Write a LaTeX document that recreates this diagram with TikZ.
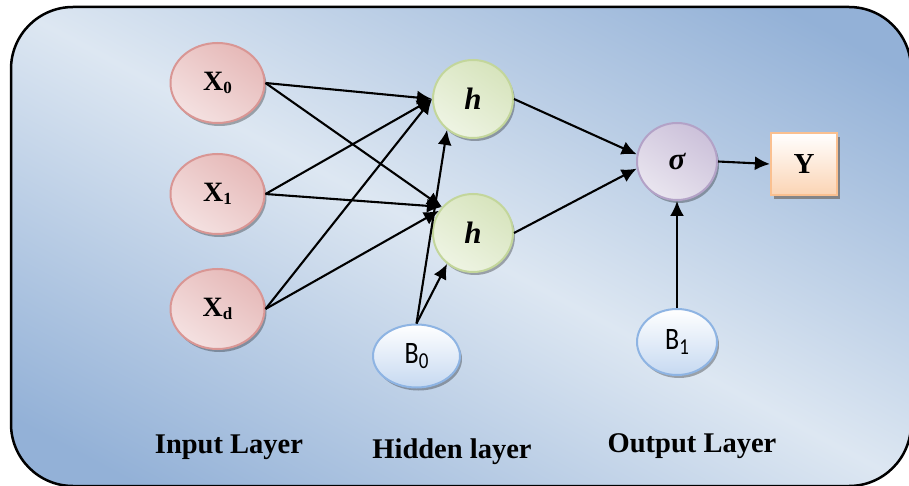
\documentclass[tikz,border=0pt]{standalone}
\usepackage{fontspec}
\setmainfont{Liberation Serif}
\newfontfamily\calib{Carlito}
\usetikzlibrary{shapes.geometric,arrows.meta,shadows}
\definecolor{bgdark}{HTML}{93B1D7}
\definecolor{bglight}{HTML}{DDE7F2}
\definecolor{xdark}{HTML}{E6B9B8}
\definecolor{xlight}{HTML}{F4E1E1}
\definecolor{xborder}{HTML}{D99694}
\definecolor{hdark}{HTML}{D7E4BD}
\definecolor{hlight}{HTML}{EEF4E3}
\definecolor{hborder}{HTML}{C3D69B}
\definecolor{sdark}{HTML}{CCC1DA}
\definecolor{slight}{HTML}{E9E5EF}
\definecolor{sborder}{HTML}{B3A2C7}
\definecolor{bdark}{HTML}{C6D9F1}
\definecolor{bborder}{HTML}{8EB4E3}
\definecolor{ypeach}{HTML}{FBD4B4}
\definecolor{yborder}{HTML}{FAC090}
\pgfdeclareverticalshading{bgshade}{100bp}{color(0bp)=(bgdark); color(37bp)=(bgdark); color(50bp)=(bglight); color(63bp)=(bgdark); color(100bp)=(bgdark)}
\newcommand{\subtxt}[1]{\raisebox{-3pt}{\fontsize{17}{17}\selectfont #1}}
\newcommand{\bsub}[1]{\raisebox{-4pt}{\fontsize{19}{19}\selectfont #1}}
\newcommand{\blabel}[1]{\scalebox{1}[1.2]{\calib\fontsize{26}{26}\selectfont B\bsub{#1}}}
\begin{document}
\begin{tikzpicture}[x=1pt,y=-1pt,
  neuron/.style={ellipse, line width=2pt, inner sep=0pt,
    drop shadow={shadow xshift=2pt,shadow yshift=-3pt,fill=black,opacity=0.3}},
  xnode/.style={neuron, minimum width=94pt, minimum height=80pt, draw=xborder,
    top color=xdark, bottom color=xlight, shading angle=-35},
  hnode/.style={neuron, minimum width=80pt, minimum height=78pt, draw=hborder,
    top color=hdark, bottom color=hlight, shading angle=-35},
  snode/.style={neuron, minimum width=80pt, minimum height=77pt, draw=sborder,
    top color=sdark, bottom color=slight, shading angle=-35},
  bnode/.style={neuron, draw=bborder, top color=white, bottom color=bdark},
  ynode/.style={rectangle, draw=yborder, line width=2.2pt, minimum width=66pt, minimum height=62pt,
    inner sep=0pt, top color=white, bottom color=ypeach,
    drop shadow={shadow xshift=3pt,shadow yshift=-4pt,fill=black!60!brown,opacity=0.45}},
  lbl/.style={anchor=base},
  arr/.style={line width=2.1pt, -{Latex[length=15pt,width=14pt]}}
]
\useasboundingbox (0,0) rectangle (909,486);
\begin{scope}
  \clip[rounded corners=62pt] (11,7) rectangle (911,486);
  \shade[shading=bgshade, shading angle=-28]
    (-239,-454) rectangle (1161,946);
\end{scope}
\draw[black, line width=2.5pt, rounded corners=62pt] (11,7) rectangle (911,486);

\node[xnode] (x0) at (217.5,83) {\fontsize{28}{28}\selectfont\bfseries X\subtxt{0}};
\node[xnode] (x1) at (217.5,194) {\fontsize{28}{28}\selectfont\bfseries X\subtxt{1}};
\node[xnode] (xd) at (217.5,309) {\fontsize{28}{28}\selectfont\bfseries X\subtxt{d}};
\node[hnode] (h1) at (473,99) {\fontsize{31}{31}\selectfont\bfseries\itshape h};
\node[hnode] (h2) at (473,233) {\fontsize{31}{31}\selectfont\bfseries\itshape h};
\node[bnode, minimum width=87pt, minimum height=63pt] (b0) at (416.5,356) {\blabel{0}};
\node[snode] (s) at (677,161.5) {\fontsize{31}{31}\selectfont\bfseries\itshape σ};
\node[bnode, minimum width=80pt, minimum height=66pt] (b1) at (677,342) {\blabel{1}};
\node[ynode] (y) at (804,164) {\fontsize{29}{29}\selectfont\bfseries Y};

\draw[arr] (x0.east) -- (h1.west);
\draw[arr] (x0.east) -- (h2.140);
\draw[arr] (x1.east) -- (h1.west);
\draw[arr] (x1.east) -- (h2.140);
\draw[arr] (xd.east) -- (h1.west);
\draw[arr] (xd.east) -- (h2.147);
\draw[arr] (b0.north) -- (h1.230);
\draw[arr] (b0.north) -- (h2.230);
\draw[arr] (h1.east) -- (s.170);
\draw[arr] (h2.east) -- (s.190);
\draw[arr] (s.east) -- (y.west);
\draw[arr] (b1.north) -- (s.south);

\node[lbl] (lin) at (229,453) {\fontsize{28.5}{28.5}\selectfont\bfseries Input Layer};
\node[lbl] (lhid) at (452,458) {\fontsize{28.5}{28.5}\selectfont\bfseries Hidden layer};
\node[lbl] (lout) at (692,452) {\fontsize{28.5}{28.5}\selectfont\bfseries Output Layer};
\end{tikzpicture}
\end{document}
